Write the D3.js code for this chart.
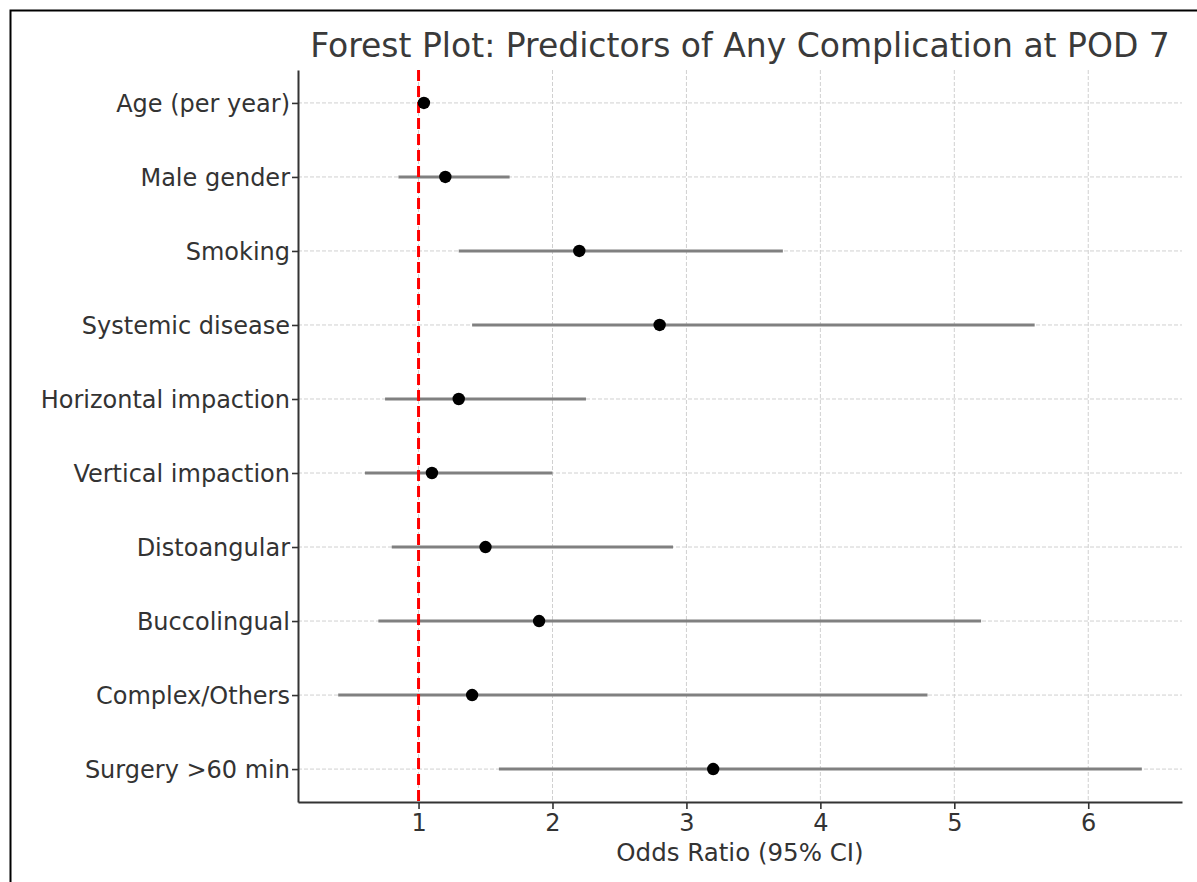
<!DOCTYPE html>
<html>
<head>
<meta charset="utf-8">
<script src="https://cdn.jsdelivr.net/npm/d3@7"></script>
<style>
  body { margin: 0; background: #fff; }
  svg { display: block; font-family: "DejaVu Sans", sans-serif; }
</style>
</head>
<body>
<svg id="chart"></svg>
<script>
const WIDTH = 1197;
const HEIGHT = 882;

// predictors, top to bottom
const predictors = [
  'Age (per year)', 'Male gender', 'Smoking', 'Systemic disease',
  'Horizontal impaction', 'Vertical impaction', 'Distoangular',
  'Buccolingual', 'Complex/Others', 'Surgery >60 min'
];
const oddsRatios = [1.04, 1.2, 2.2, 2.8, 1.3, 1.1, 1.5, 1.9, 1.4, 3.2];
const ciLower = [1.01, 0.85, 1.3, 1.4, 0.75, 0.6, 0.8, 0.7, 0.4, 1.6];
const ciUpper = [1.07, 1.68, 3.72, 5.6, 2.25, 2.0, 2.9, 5.2, 4.8, 6.4];
const xTicks = [1, 2, 3, 4, 5, 6];

const rows = predictors.map((name, i) => ({
  name, or: oddsRatios[i], lo: ciLower[i], hi: ciUpper[i]
}));

const margin = { top: 70, right: 15, bottom: 80, left: 298 };
const innerW = WIDTH - margin.left - margin.right;
const innerH = HEIGHT - margin.top - margin.bottom;

const svg = d3.select('#chart')
  .attr('width', WIDTH)
  .attr('height', HEIGHT);

// frame round the image (only left and top show)
svg.append('path')
  .attr('d', `M10.5,${HEIGHT} V10.5 H${WIDTH}`)
  .attr('fill', 'none')
  .attr('stroke', '#000')
  .attr('stroke-width', 2);

const g = svg.append('g')
  .attr('transform', `translate(${margin.left},${margin.top})`);

const x = d3.scaleLinear().domain([0.1, 6.7]).range([0, innerW]);
const y = d3.scalePoint().domain(predictors).range([0, innerH]).padding(0.445);

// grid
g.append('g')
  .selectAll('line')
  .data(xTicks)
  .join('line')
  .attr('x1', d => x(d)).attr('x2', d => x(d))
  .attr('y1', 0).attr('y2', innerH)
  .attr('stroke', '#d0d0d0')
  .attr('stroke-width', 1)
  .attr('stroke-dasharray', '4,2');

g.append('g')
  .selectAll('line')
  .data(predictors)
  .join('line')
  .attr('x1', 0).attr('x2', innerW)
  .attr('y1', d => y(d)).attr('y2', d => y(d))
  .attr('stroke', '#d0d0d0')
  .attr('stroke-width', 1)
  .attr('stroke-dasharray', '4,2');

// confidence intervals
g.append('g')
  .selectAll('line')
  .data(rows)
  .join('line')
  .attr('x1', d => x(d.lo)).attr('x2', d => x(d.hi))
  .attr('y1', d => y(d.name)).attr('y2', d => y(d.name))
  .attr('stroke', '#808080')
  .attr('stroke-width', 3);

// reference line at OR = 1
g.append('line')
  .attr('x1', x(1)).attr('x2', x(1))
  .attr('y1', 0).attr('y2', innerH)
  .attr('stroke', '#ff0000')
  .attr('stroke-width', 3)
  .attr('stroke-dasharray', '11,5');

// point estimates
g.append('g')
  .selectAll('circle')
  .data(rows)
  .join('circle')
  .attr('cx', d => x(d.or))
  .attr('cy', d => y(d.name))
  .attr('r', 6.2)
  .attr('fill', '#000');

// axes
const xAxis = g.append('g')
  .attr('transform', `translate(0,${innerH})`)
  .call(d3.axisBottom(x).tickValues(xTicks).tickFormat(d3.format('d')).tickSize(7).tickSizeOuter(0).tickPadding(5));

const yAxis = g.append('g')
  .call(d3.axisLeft(y).tickSize(6).tickSizeOuter(0).tickPadding(2));

[xAxis, yAxis].forEach(ax => {
  ax.select('.domain').attr('stroke', '#333').attr('stroke-width', 2);
  ax.selectAll('.tick line').attr('stroke', '#333').attr('stroke-width', 1.6);
  ax.selectAll('.tick text')
    .attr('fill', '#333')
    .style('font-size', '24px')
    .style('font-family', '"DejaVu Sans", sans-serif');
});
yAxis.selectAll('.tick text').attr('dy', '0.36em');

// title and axis label
svg.append('text')
  .attr('x', margin.left + innerW / 2)
  .attr('y', 57)
  .attr('text-anchor', 'middle')
  .attr('fill', '#3a3a3a')
  .style('font-size', '33px')
  .text('Forest Plot: Predictors of Any Complication at POD 7');

svg.append('text')
  .attr('x', margin.left + innerW / 2)
  .attr('y', 861)
  .attr('text-anchor', 'middle')
  .attr('fill', '#333')
  .style('font-size', '24.5px')
  .text('Odds Ratio (95% CI)');
</script>
</body>
</html>
